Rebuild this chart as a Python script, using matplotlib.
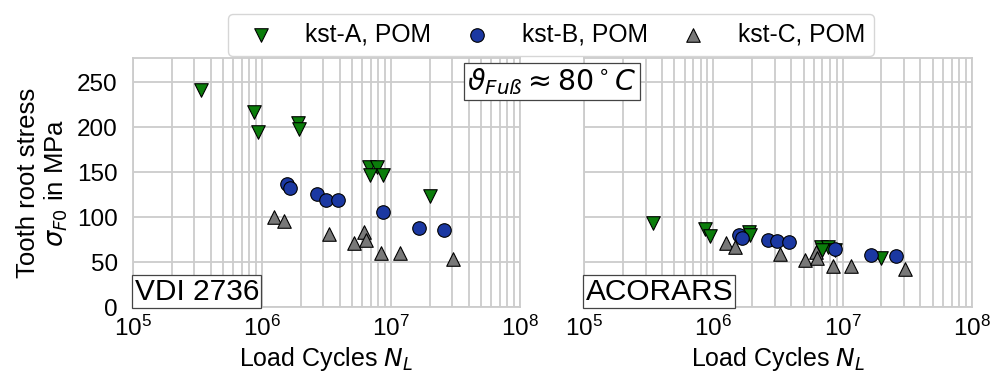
import matplotlib
matplotlib.use("Agg")
import matplotlib.pyplot as plt
import numpy as np

plt.rcParams['font.family'] = ['Liberation Sans', 'DejaVu Sans']
plt.rcParams['mathtext.fontset'] = 'dejavusans'

# VDI 2736 panel
vdi_A_x = [3.37e5, 8.7e5, 9.3e5, 1.9e6, 1.93e6, 6.8e6, 7.75e6, 6.9e6, 8.7e6, 2.0e7]
vdi_A_y = [241, 217, 195, 205, 198, 156, 156, 147, 147, 123]
vdi_B_x = [1.57e6, 1.66e6, 2.65e6, 3.13e6, 3.87e6, 8.7e6, 1.65e7, 2.58e7]
vdi_B_y = [137, 132, 126, 119, 119, 106, 88, 86]
vdi_C_x = [1.25e6, 1.47e6, 3.3e6, 5.15e6, 6.2e6, 6.4e6, 8.4e6, 1.17e7, 3.05e7]
vdi_C_y = [100, 96, 81, 71, 84, 75, 60, 60, 54]

# ACORARS panel
aco_A_x = [3.4e5, 8.7e5, 9.4e5, 1.9e6, 1.93e6, 6.8e6, 7.75e6, 6.9e6, 8.7e6, 2.0e7]
aco_A_y = [94, 87, 79, 83, 80, 67, 67, 63, 63, 55]
aco_B_x = [1.57e6, 1.66e6, 2.65e6, 3.13e6, 3.87e6, 8.7e6, 1.65e7, 2.58e7]
aco_B_y = [80, 77, 75, 73, 72, 65, 58, 57]
aco_C_x = [1.25e6, 1.47e6, 3.3e6, 5.15e6, 6.2e6, 6.4e6, 8.4e6, 1.17e7, 3.05e7]
aco_C_y = [71, 67, 59, 52, 61, 55, 46, 46, 42]

labels = ['kst-A, POM', 'kst-B, POM', 'kst-C, POM']
y_ticks = [0, 50, 100, 150, 200, 250]

fig = plt.figure(figsize=(10.05, 3.81), dpi=100)
ax1 = fig.add_axes([0.1323, 0.194, 0.385, 0.654])
ax2 = fig.add_axes([0.581, 0.194, 0.386, 0.654])

styles = [dict(marker='v', color='#0b7d0b'), dict(marker='o', color='#1b38a2'),
          dict(marker='^', color='#787878')]

panels = [(ax1, [(vdi_A_x, vdi_A_y), (vdi_B_x, vdi_B_y), (vdi_C_x, vdi_C_y)], 'VDI 2736'),
          (ax2, [(aco_A_x, aco_A_y), (aco_B_x, aco_B_y), (aco_C_x, aco_C_y)], 'ACORARS')]

for ax, series, name in panels:
    ax.set_xscale('log')
    ax.set_xlim(1e5, 1e8)
    ax.set_ylim(0, 277)
    ax.set_yticks(y_ticks)
    ax.grid(True, which='both', color='#cccccc', linewidth=1.3)
    ax.set_axisbelow(True)
    for sp in ax.spines.values():
        sp.set_color('#cccccc')
        sp.set_linewidth(1.3)
    for (x, y), st, lab in zip(series, styles, labels):
        ax.scatter(x, y, s=95, marker=st['marker'], c=st['color'], edgecolors='black',
                   linewidths=0.8, label=lab, zorder=3)
    ax.set_xticks([1e5, 1e6, 1e7, 1e8])
    ax.tick_params(axis='both', which='both', length=0, labelsize=17.5)
    ax.tick_params(axis='x', pad=6)
    ax.tick_params(axis='y', pad=11)
    ax.set_xlabel('Load Cycles $N_L$', fontsize=18, labelpad=3)
    ax.text(0.004, 0.006, name, transform=ax.transAxes, fontsize=21.5, ha='left', va='bottom',
            bbox=dict(boxstyle='square,pad=0.08', fc='white', ec='#444444', lw=0.9), zorder=5)

ax1.set_ylabel('Tooth root stress\n$\\sigma_{F0}$ in MPa', fontsize=18.5, labelpad=5,
               linespacing=1.1)
ax2.set_yticklabels([])

fig.text(0.549, 0.786, r'$\vartheta_{Fuß} \approx 80^\circ C$', fontsize=20.5, ha='center', va='center',
         bbox=dict(boxstyle='square,pad=0.12', fc='white', ec='#444444', lw=0.9))

h, l = ax1.get_legend_handles_labels()
fig.legend(h, l, loc='upper center', bbox_to_anchor=(0.548, 0.995), ncol=3, fontsize=17.8,
           frameon=True, edgecolor='#cccccc', handletextpad=0.8, columnspacing=0.85,
           handlelength=2.0, borderpad=0.35)

fig.savefig('out.png', dpi=100)
